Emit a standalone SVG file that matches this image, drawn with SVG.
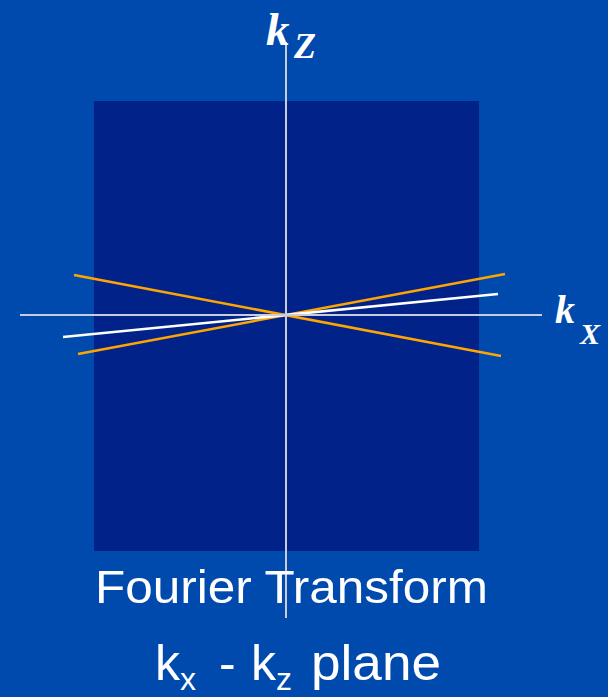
<svg xmlns="http://www.w3.org/2000/svg" width="608" height="697" viewBox="0 0 608 697">
<style>
.axis{stroke:#C8CCDC;stroke-width:2;fill:none}
.ora{stroke:#FFA500;stroke-width:2.5;fill:none}
.wht{stroke:#FFFFFF;stroke-width:2.5;fill:none}
.lab{font-family:"Liberation Serif",serif;font-weight:bold;font-style:italic;fill:#FFFFFF}
.cap{font-family:"Liberation Sans","DejaVu Sans",sans-serif;fill:#FFFFFF}
</style>
<rect width="608" height="697" fill="#004AAD"/>
<g id="plane"><rect x="94" y="101" width="385" height="450" fill="#002289"/></g>
<g id="connectors">
<line class="ora" x1="74" y1="275" x2="501" y2="356"/>
<line class="ora" x1="78" y1="354" x2="505" y2="274"/>
<line class="wht" x1="63" y1="337" x2="498" y2="294"/>
<line class="axis" x1="20" y1="315" x2="542" y2="315"/>
<line class="axis" x1="286" y1="42" x2="286" y2="618"/>
</g>
<g id="kz-label"><text class="lab" x="266" y="45" font-size="47">k<tspan x="294" font-size="36" dy="13">Z</tspan></text></g>
<g id="kx-label"><text class="lab" x="555" y="323" font-size="40">k<tspan x="580" font-size="30" dy="21">X</tspan></text></g>
<g id="caption">
<text class="cap" x="95" y="603" font-size="47" textLength="393" lengthAdjust="spacingAndGlyphs">Fourier Transform</text>
<text class="cap" y="680" font-size="50"><tspan x="155">k</tspan><tspan x="180" font-size="32" dy="10">x</tspan><tspan x="219" dy="-10">-</tspan><tspan x="251">k</tspan><tspan x="276" font-size="32" dy="10">z</tspan><tspan x="311" dy="-10" textLength="130" lengthAdjust="spacingAndGlyphs">plane</tspan></text>
</g>
</svg>
